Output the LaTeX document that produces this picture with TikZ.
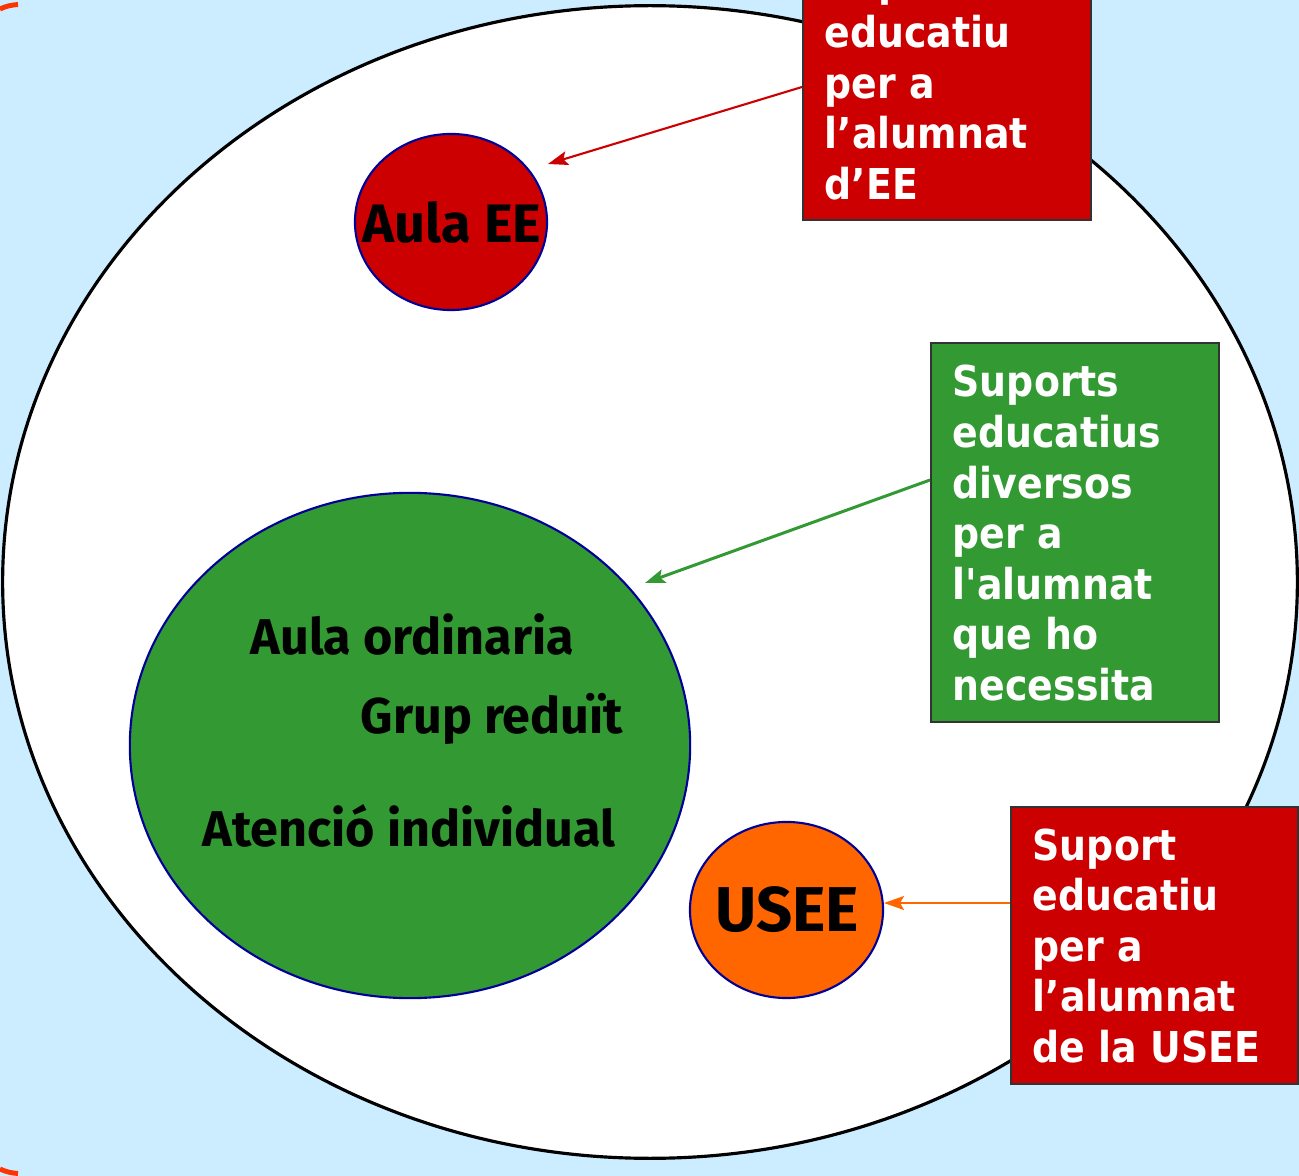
\documentclass[tikz,border=0pt]{standalone}
\usepackage{fontspec}
\usetikzlibrary{shapes.geometric,arrows.meta,calc}
\newfontfamily\boxfont{DejaVu Sans}[FakeStretch=0.89]
\newfontfamily\comicfont{Fira Sans}
\definecolor{bgblue}{HTML}{CCECFF}
\definecolor{boxred}{HTML}{CC0000}
\definecolor{boxgreen}{HTML}{339933}
\definecolor{usorange}{HTML}{FF6600}
\definecolor{navy}{HTML}{000099}
\definecolor{markorange}{HTML}{FF3300}
\tikzset{
  outerell/.style={ellipse, draw=black, fill=white, line width=0.9pt, inner sep=0pt},
  blob/.style={ellipse, draw=navy, line width=0.6pt, inner sep=0pt},
  infobox/.style={rectangle, draw=black!80, line width=0.5pt, inner sep=0pt},
  boxtext/.style={anchor=base west, inner sep=0pt, text=white, font=\boxfont\bfseries},
  bloblabel/.style={inner sep=0pt, text=black, font=\comicfont\bfseries},
  greenlabel/.style={bloblabel, anchor=base west, font=\comicfont\bfseries\fontsize{14.3pt}{17pt}\selectfont},
  conn/.style={line width=0.6pt, -{Stealth[length=0.2cm, width=0.14cm, inset=0.04cm]}},
}
\begin{document}
\begin{tikzpicture}[x=0.01cm, y=-0.01cm]
\useasboundingbox[fill=bgblue] (0,0) rectangle (1299,1176);
% orange marks at left edge
\draw[markorange, line width=1.4pt] (0,9) .. controls (6,6) and (12,5) .. (18,4.5);
\draw[markorange, line width=1.4pt] (0,1169) .. controls (6,1172) and (12,1173) .. (18,1173.5);
% big white ellipse
\node[outerell, minimum width=12.94cm, minimum height=11.52cm] (outer) at (650,582) {};
% blobs
\node[blob, fill=boxred, minimum width=1.92cm, minimum height=1.76cm] (aulaee) at (451,222) {};
\node[blob, fill=boxgreen, minimum width=5.6cm, minimum height=5.05cm] (ordinaria) at (410,745.5) {};
\node[blob, fill=usorange, minimum width=1.93cm, minimum height=1.76cm] (usee) at (786.5,910) {};
% blob labels
\node[bloblabel, font=\comicfont\bfseries\fontsize{15.4pt}{18pt}\selectfont] (laee) at (452,222) {Aula EE};
\node[greenlabel] (lord) at (250,655) {Aula ordinaria};
\node[greenlabel] (lgrup) at (360,734) {Grup reduït};
\node[greenlabel] (laten) at (202,846) {Atenció individual};
\node[bloblabel, font=\comicfont\bfseries\fontsize{18pt}{20pt}\selectfont] (lusee) at (787,910) {USEE};
% info boxes
\node[infobox, fill=boxred, minimum width=2.88cm, minimum height=2.8cm] (boxee) at (947,80) {};
\node[infobox, fill=boxgreen, minimum width=2.88cm, minimum height=3.79cm] (boxdiv) at (1075,532.5) {};
\node[infobox, fill=boxred, minimum width=2.87cm, minimum height=2.77cm] (boxusee) at (1154.5,945.5) {};
% box texts
\node[boxtext] (tee) at (824,-3) {\parbox[t]{2.7cm}{\fontsize{12.1pt}{14.37pt}\selectfont Suport\\educatiu\\per a\\l’alumnat\\d’EE}};
\node[boxtext] (tdiv) at (952,397) {\parbox[t]{2.7cm}{\fontsize{12.1pt}{14.37pt}\selectfont Suports\\educatius\\diversos\\per a\\l'alumnat\\que ho\\necessita}};
\node[boxtext] (tusee) at (1032,860) {\parbox[t]{2.7cm}{\fontsize{12.1pt}{14.37pt}\selectfont Suport\\educatiu\\per a\\l’alumnat\\de la USEE}};
% connector ends
\path (boxee.west) ++(0,7) coordinate (sA);
\coordinate (eA) at (548,164);
\path (boxdiv.west) ++(0,-52.5) coordinate (sB);
\coordinate (eB) at (645,583);
\path (boxusee.west) ++(0,-42.5) coordinate (sC);
\coordinate (eC) at (884,903);
% connectors
\draw[conn, boxred] (sA) -- (eA);
\draw[conn, boxgreen, line width=0.85pt] (sB) -- (eB);
\draw[conn, usorange] (sC) -- (eC);
\end{tikzpicture}
\end{document}
